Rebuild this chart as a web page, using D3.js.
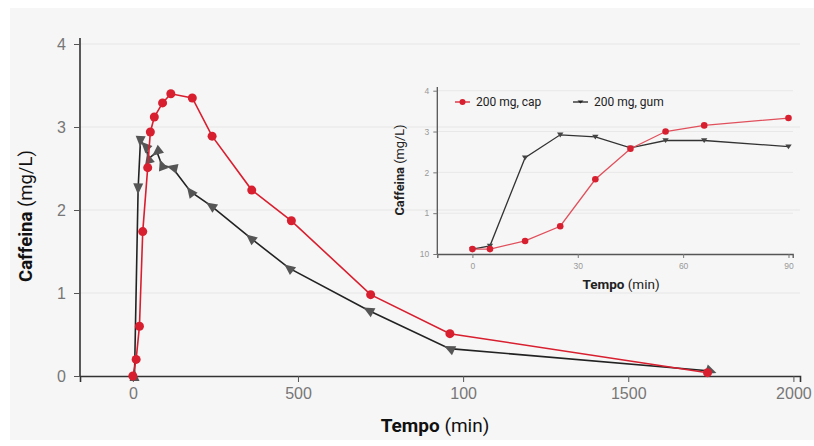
<!DOCTYPE html>
<html>
<head>
<meta charset="utf-8">
<script src="https://cdn.jsdelivr.net/npm/d3@7"></script>
<style>
  body { margin: 0; background: #fff; }
  svg { display: block; font-family: Roboto, "Noto Sans", sans-serif; }
</style>
</head>
<body>
<div id="container"></div>
<script>
// Main chart data: time (min), caffeine (mg/L)
const capTime = [0, 10, 20, 30, 45, 53, 65, 90, 115, 180, 240, 360, 480, 720, 960, 1740];
const capConc = [0, 0.2, 0.6, 1.74, 2.51, 2.94, 3.12, 3.29, 3.40, 3.35, 2.89, 2.24, 1.87, 0.98, 0.51, 0.04];
const gumTime = [5, 16, 23, 38, 48, 73, 88, 120, 175, 237, 357, 473, 714, 959, 1750];
const gumConc = [0, 2.26, 2.83, 2.77, 2.62, 2.70, 2.54, 2.51, 2.22, 2.05, 1.66, 1.30, 0.79, 0.33, 0.06];
const mainXTicks = [0, 500, 1000, 1500, 2000];
const mainXLabels = ["0", "500", "100", "1500", "2000"];
const mainYTicks = [0, 1, 2, 3, 4];

// Inset data: first 90 minutes
const insetTime = [0, 5, 15, 25, 35, 45, 55, 66, 90];
const insetCap = [0.12, 0.12, 0.32, 0.68, 1.83, 2.58, 3.0, 3.15, 3.33];
const insetGum = [0.12, 0.2, 2.36, 2.92, 2.87, 2.6, 2.78, 2.78, 2.63];
const insetXTicks = [0, 30, 60, 90];
const insetYTicks = [0, 1, 2, 3, 4];
const insetYLabels = ["10", "1", "2", "3", "4"];
const seriesNames = ["200 mg, cap", "200 mg, gum"];

const width = 814, height = 446;
const red = "#d81f2f", dark = "#222";

const svg = d3.select("#container").append("svg")
  .attr("width", width).attr("height", height);

// panel background
svg.append("rect").attr("x", 10).attr("y", 8).attr("width", 804).attr("height", 432).attr("fill", "#f6f6f6");

// ---------- main chart ----------
const x = d3.scaleLinear().domain([-160, 2020]).range([80, 800]);
const y = d3.scaleLinear().domain([0, 4]).range([376, 44]);

// gridlines
svg.append("g").selectAll("line").data(mainYTicks.slice(1)).join("line")
  .attr("x1", 80).attr("x2", 800)
  .attr("y1", d => y(d)).attr("y2", d => y(d))
  .attr("stroke", "#e6e6e6").attr("stroke-width", 1);

const xAxis = svg.append("g").attr("transform", "translate(0,376)")
  .call(d3.axisBottom(x).tickValues(mainXTicks).tickFormat((d, i) => mainXLabels[i]).tickSize(6).tickPadding(6));
const yAxis = svg.append("g").attr("transform", "translate(80,0)")
  .call(d3.axisLeft(y).tickValues(mainYTicks).tickFormat(d3.format("d")).tickSize(6).tickPadding(8));
[xAxis, yAxis].forEach(a => {
  a.select(".domain").attr("stroke", "#333").attr("stroke-width", 1.6);
  a.selectAll(".tick line").attr("stroke", "#555");
  a.selectAll("text").attr("fill", "#777").attr("font-size", 16).attr("font-weight", 300);
});
yAxis.select(".domain").attr("d", "M0,38V376");

// axis titles
const xt = svg.append("text").attr("x", 435).attr("y", 432).attr("text-anchor", "middle")
  .attr("font-size", 19).attr("fill", "#111");
xt.append("tspan").attr("font-weight", 700).text("Tempo");
xt.append("tspan").text(" (min)");
const yt = svg.append("text").attr("transform", "translate(32,216) rotate(-90)").attr("text-anchor", "middle")
  .attr("font-size", 18.5).attr("fill", "#111");
yt.append("tspan").attr("font-weight", 700).text("Caffeina");
yt.append("tspan").text(" (mg/L)");

const line = d3.line().x(d => x(d[0])).y(d => y(d[1]));
const gum = gumTime.map((t, i) => [t, gumConc[i]]);
const cap = capTime.map((t, i) => [t, capConc[i]]);

svg.append("path").datum(gum).attr("d", line).attr("fill", "none").attr("stroke", dark).attr("stroke-width", 1.6);
// triangles point back toward the previous point
svg.append("g").selectAll("path").data(gum).join("path")
  .attr("d", "M-6,0L5,-5L5,5Z")
  .attr("fill", "#555")
  .attr("transform", (d, i) => {
    const p = gum[Math.max(i - 1, 0)];
    let ang = i === 0 ? 90 : Math.atan2(y(p[1]) - y(d[1]), x(p[0]) - x(d[0])) * 180 / Math.PI + 180;
    if (i === gum.length - 1) ang = 200;
    return `translate(${x(d[0])},${y(d[1])}) rotate(${ang})`;
  });

svg.append("path").datum(cap).attr("d", line).attr("fill", "none").attr("stroke", red).attr("stroke-width", 1.6);
svg.append("g").selectAll("circle").data(cap).join("circle")
  .attr("cx", d => x(d[0])).attr("cy", d => y(d[1])).attr("r", 4.5).attr("fill", red);

// ---------- inset ----------
const ix = d3.scaleLinear().domain([-10, 91.2]).range([437.3, 792.7]);
const iy = d3.scaleLinear().domain([0, 4]).range([254, 90.7]);

svg.append("g").selectAll("line").data(insetYTicks.slice(1)).join("line")
  .attr("x1", 437).attr("x2", 793)
  .attr("y1", d => iy(d)).attr("y2", d => iy(d))
  .attr("stroke", "#e8e8e8").attr("stroke-width", 1);

const ixAxis = svg.append("g").attr("transform", "translate(0,254)")
  .call(d3.axisBottom(ix).tickValues(insetXTicks).tickSize(4).tickPadding(5));
const iyAxis = svg.append("g").attr("transform", "translate(437.3,0)")
  .call(d3.axisLeft(iy).tickValues(insetYTicks).tickFormat((d, i) => insetYLabels[i]).tickSize(4).tickPadding(4));
[ixAxis, iyAxis].forEach(a => {
  a.select(".domain").attr("stroke", "#555").attr("stroke-width", 1.3);
  a.selectAll(".tick line").attr("stroke", "#777");
  a.selectAll("text").attr("fill", "#999").attr("font-size", 8.5);
});
iyAxis.select(".domain").attr("d", "M0,87V254");

const ixt = svg.append("text").attr("x", 621).attr("y", 289).attr("text-anchor", "middle")
  .attr("font-size", 13.5).attr("fill", "#222");
ixt.append("tspan").attr("font-weight", 700).text("Tempo");
ixt.append("tspan").text(" (min)");
const iyt = svg.append("text").attr("transform", "translate(404,170) rotate(-90)").attr("text-anchor", "middle")
  .attr("font-size", 12.8).attr("fill", "#222");
iyt.append("tspan").attr("font-weight", 700).text("Caffeina");
iyt.append("tspan").text(" (mg/L)");

const iline = d3.line().x(d => ix(d[0])).y(d => iy(d[1]));
const iGum = insetTime.map((t, i) => [t, insetGum[i]]);
const iCap = insetTime.map((t, i) => [t, insetCap[i]]);

svg.append("path").datum(iGum).attr("d", iline).attr("fill", "none").attr("stroke", "#333").attr("stroke-width", 1.3);
svg.append("g").selectAll("path").data(iGum).join("path")
  .attr("d", "M-3.2,-2.2L3.2,-2.2L0,2.6Z").attr("fill", "#444")
  .attr("transform", d => `translate(${ix(d[0])},${iy(d[1])})`);

svg.append("path").datum(iCap).attr("d", iline).attr("fill", "none").attr("stroke", "#e0505c").attr("stroke-width", 1.3);
svg.append("g").selectAll("circle").data(iCap).join("circle")
  .attr("cx", d => ix(d[0])).attr("cy", d => iy(d[1])).attr("r", 3.3).attr("fill", red);

// legend
const leg = svg.append("g").attr("font-size", 12).attr("fill", "#222");
const legX = [455, 573];
seriesNames.forEach((name, i) => {
  const g = leg.append("g").attr("transform", `translate(${legX[i]},102)`);
  g.append("line").attr("x1", 0).attr("x2", 15).attr("stroke", i === 0 ? red : "#222").attr("stroke-width", 1.3);
  if (i === 0) g.append("circle").attr("cx", 7.5).attr("r", 3).attr("fill", red);
  else g.append("path").attr("d", "M4.5,-1.5L10.5,-1.5L7.5,1.5Z").attr("fill", "#222");
  g.append("text").attr("x", 21).attr("y", 4).text(name);
});
</script>
</body>
</html>
